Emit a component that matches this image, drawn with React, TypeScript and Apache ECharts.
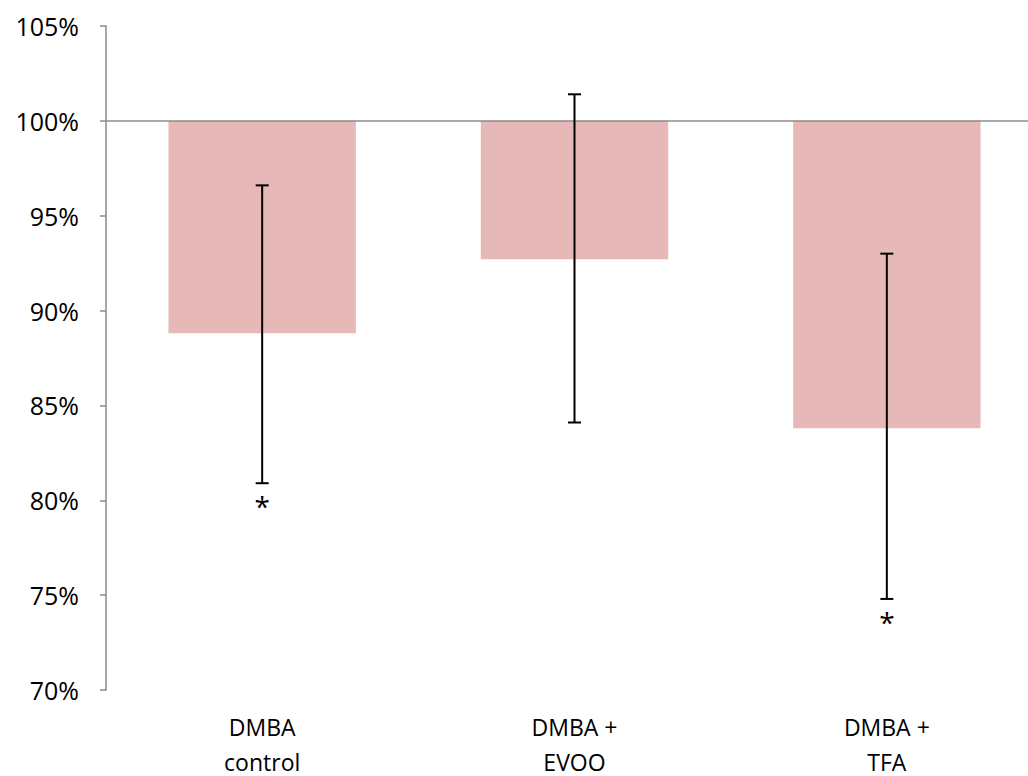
import React, { useEffect, useRef } from "react";
import * as echarts from "echarts";

const categories = ["DMBA\ncontrol", "DMBA +\nEVOO", "DMBA +\nTFA"];
const means = [88.8, 92.7, 83.8];
const errLow = [80.9, 84.1, 74.8];
const errHigh = [96.6, 101.4, 93.0];
const significant = [true, false, true];
const yTicks = { min: 70, max: 105, step: 5 };
const baseline = 100;

export default function App() {
  const ref = useRef<HTMLDivElement>(null);
  useEffect(() => {
    if (!ref.current) return;
    const chart = echarts.init(ref.current, null, { renderer: "svg" });
    const font = "'Open Sans', sans-serif";
    chart.setOption({
      animation: false,
      grid: { left: 106, right: -15, top: 26, bottom: 86, outerBoundsMode: "none" },
      xAxis: {
        type: "category",
        data: categories,
        axisLine: { show: false },
        axisTick: { show: false },
        axisLabel: { color: "#000", fontSize: 23, fontFamily: font, lineHeight: 35, margin: 19 },
      },
      yAxis: {
        type: "value",
        min: yTicks.min - baseline,
        max: yTicks.max - baseline,
        interval: yTicks.step,
        splitLine: { show: false },
        axisLine: { show: true, lineStyle: { color: "#888", width: 1.5 } },
        axisTick: { show: true, length: 6, lineStyle: { color: "#888", width: 1.5 } },
        axisLabel: {
          color: "#000",
          fontSize: 25,
          fontFamily: font,
          margin: 27,
          formatter: (v: number) => `${Math.round(v + baseline)}%`,
        },
      },
      series: [
        {
          type: "bar",
          data: means.map((m) => m - baseline),
          barWidth: "60%",
          itemStyle: { color: "#E6B8B7" },
          markLine: {
            silent: true,
            symbol: "none",
            label: { show: false },
            lineStyle: { color: "#8c8c8c", width: 1.5, type: "solid" },
            data: [{ yAxis: 0 }],
          },
          z: 2,
        },
        {
          type: "custom",
          z: 5,
          data: categories.map((_, i) => [i, errLow[i] - baseline, errHigh[i] - baseline, significant[i] ? 1 : 0]),
          renderItem: (params: any, api: any) => {
            const x = api.value(0);
            const lo = api.coord([x, api.value(1)]);
            const hi = api.coord([x, api.value(2)]);
            const half = 6.5;
            const st = { stroke: "#000", lineWidth: 2 };
            const children: any[] = [
              { type: "line", shape: { x1: lo[0], y1: lo[1], x2: hi[0], y2: hi[1] }, style: st },
              { type: "line", shape: { x1: lo[0] - half, y1: lo[1], x2: lo[0] + half, y2: lo[1] }, style: st },
              { type: "line", shape: { x1: hi[0] - half, y1: hi[1], x2: hi[0] + half, y2: hi[1] }, style: st },
            ];
            if (api.value(3)) {
              children.push({
                type: "text",
                x: lo[0],
                y: lo[1] + 23,
                style: {
                  text: "*",
                  fill: "#000",
                  font: `28px ${font}`,
                  align: "center",
                  verticalAlign: "middle",
                },
              });
            }
            return { type: "group", children };
          },
        },
      ],
    });
    return () => chart.dispose();
  }, []);
  return (
    <div
      ref={ref}
      style={{ position: "absolute", left: 0, top: 0, width: 1028, height: 776, background: "#fff" }}
    />
  );
}
